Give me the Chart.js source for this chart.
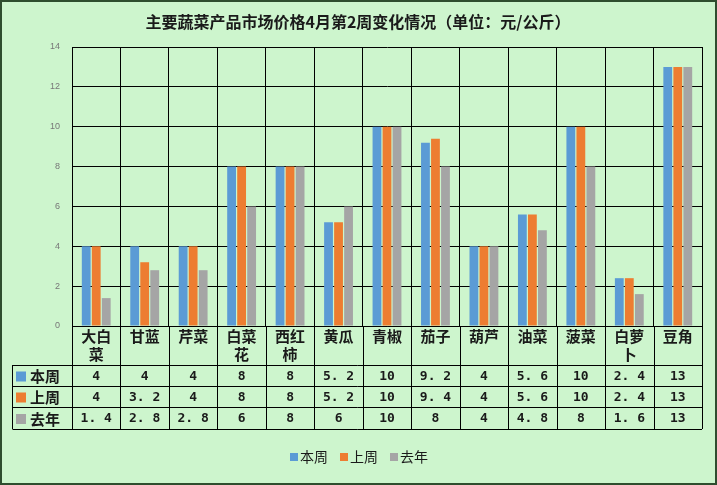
<!DOCTYPE html>
<html><head><meta charset="utf-8">
<script src="https://cdn.jsdelivr.net/npm/chart.js@4"></script>
<style>body{margin:0;background:#fff}#wrap{width:717px;height:485px;position:relative}</style>
</head><body><div id="wrap"><canvas id="c" width="717" height="485"></canvas></div>
<script>
var categories = ["大白菜", "甘蓝", "芹菜", "白菜花", "西红柿", "黄瓜", "青椒", "茄子", "葫芦", "油菜", "菠菜", "白萝卜", "豆角"];
var thisWeek = [4, 4, 4, 8, 8, 5.2, 10, 9.2, 4, 5.6, 10, 2.4, 13];
var lastWeek = [4, 3.2, 4, 8, 8, 5.2, 10, 9.4, 4, 5.6, 10, 2.4, 13];
var lastYear = [1.4, 2.8, 2.8, 6, 8, 6, 10, 8, 4, 4.8, 8, 1.6, 13];
var seriesNames = ["本周", "上周", "去年"];
var colors = ["#5b9bd5", "#ed7d31", "#a5a5a5"];
var title = "主要蔬菜产品市场价格4月第2周变化情况（单位：元/公斤）";

function fmt(v) { return String(v).replace(".", ". "); }

var tablePlugin = {
    id: "table",
    beforeDraw: function (chart) {
        var c = chart.ctx;
        c.save();
        c.fillStyle = "#cdf5cd";
        c.fillRect(0, 0, 717, 485);
        c.strokeStyle = "#2e4d2e";
        c.lineWidth = 2;
        c.strokeRect(1, 1, 715, 483);
        c.restore();
    },
    afterDraw: function (chart) {
        var c = chart.ctx, x = chart.scales.x, a = chart.chartArea;
        var rows = [a.bottom, 365, 386, 407, 429];
        var step = (a.right - a.left) / categories.length;
        c.save();
        c.fillStyle = "#1a1a1a";
        c.font = "bold 16px 'Noto Sans CJK SC'";
        c.textAlign = "center";
        c.fillText(title, 358, 28);
        c.strokeStyle = "#000";
        c.lineWidth = 1;
        c.beginPath();
        for (var i = 0; i <= categories.length; i++) {
            var px = Math.round(a.left + i * step) + 0.5;
            c.moveTo(px, a.bottom); c.lineTo(px, 429);
        }
        c.moveTo(12.5, 365); c.lineTo(12.5, 429);
        for (var r = 1; r < rows.length; r++) {
            c.moveTo(12.5, rows[r] + 0.5); c.lineTo(a.right, rows[r] + 0.5);
        }
        c.stroke();
        c.textBaseline = "middle";
        c.font = "bold 15px 'Noto Sans CJK SC'";
        categories.forEach(function (name, i) {
            var cx = x.getPixelForValue(i);
            if (name.length <= 2) {
                c.fillText(name, cx, 336);
            } else {
                c.fillText(name.slice(0, 2), cx, 336);
                c.fillText(name.slice(2), cx, 354);
            }
        });
        var data = [thisWeek, lastWeek, lastYear];
        data.forEach(function (arr, s) {
            var cy = (rows[s + 1] + rows[s + 2]) / 2 + 1;
            c.fillStyle = colors[s];
            c.fillRect(16, cy - 5, 10, 10);
            c.fillStyle = "#1a1a1a";
            c.font = "bold 15px 'Noto Sans CJK SC'";
            c.textAlign = "left";
            c.fillText(seriesNames[s], 30, cy);
            c.textAlign = "center";
            c.font = "bold 13px 'DejaVu Sans Mono'";
            arr.forEach(function (v, i) {
                c.fillText(fmt(v), x.getPixelForValue(i), cy);
            });
        });
        // legend
        var lx = 290;
        c.font = "14px 'Noto Sans CJK SC'";
        c.textAlign = "left";
        seriesNames.forEach(function (n, s) {
            c.fillStyle = colors[s];
            c.fillRect(lx, 453, 8, 8);
            c.fillStyle = "#1a1a1a";
            c.fillText(n, lx + 10, 457);
            lx += 50;
        });
        c.restore();
    }
};

new Chart(document.getElementById("c"), {
    type: "bar",
    data: {
        labels: categories,
        datasets: [
            { label: seriesNames[0], data: thisWeek, backgroundColor: colors[0] },
            { label: seriesNames[1], data: lastWeek, backgroundColor: colors[1] },
            { label: seriesNames[2], data: lastYear, backgroundColor: colors[2] }
        ]
    },
    options: {
        responsive: false,
        animation: false,
        layout: { padding: { left: 0, right: 15, top: 47, bottom: 159 } },
        plugins: { legend: { display: false }, tooltip: { enabled: false } },
        datasets: { bar: { categoryPercentage: 0.62, barPercentage: 0.88 } },
        scales: {
            x: {
                ticks: { display: false },
                grid: { color: "#000", offset: true, drawTicks: false },
                border: { color: "#000" }
            },
            y: {
                min: 0, max: 14,
                ticks: { stepSize: 2, color: "#777", font: { size: 9 }, padding: 12 },
                grid: { color: "#000", drawTicks: false },
                border: { color: "#000" },
                afterFit: function (s) { s.width = 72; }
            }
        }
    },
    plugins: [tablePlugin]
});
</script></body></html>
